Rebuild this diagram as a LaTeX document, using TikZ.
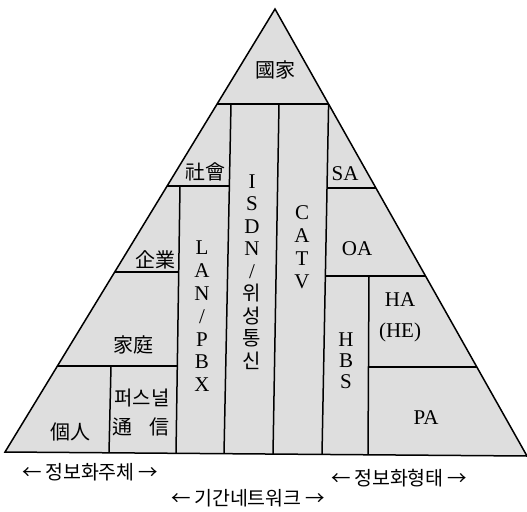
\documentclass[tikz,border=0pt]{standalone}
\usepackage{fontspec}
\setmainfont{Liberation Serif}
\newfontfamily\kr{Noto Sans CJK KR}
\tikzset{
  edge/.style={line width=1.5pt, black},
  lat/.style={font=\fontsize{21}{22.8}\selectfont, align=center, inner sep=0pt},
  cjk/.style={font=\kr\fontsize{20}{22}\selectfont, align=center, inner sep=0pt},
  bottomlbl/.style={font=\kr\fontsize{19.5}{20}\selectfont, inner sep=0pt},
}
\begin{document}
\begin{tikzpicture}[x=1pt,y=-1pt]
\useasboundingbox (0,0) rectangle (527,511);
% outline
\coordinate (T) at (275,9);
\coordinate (BL) at (5,452);
\coordinate (BR) at (527,456);
\fill[black!13] (T) -- (BL) -- (BR) -- cycle;
% vertical lines
\coordinate (At) at (231,104); \coordinate (Ab) at (224,453.7);
\coordinate (Bt) at (279,104); \coordinate (Bb) at (273,454.1);
\coordinate (Ct) at (328.6,104); \coordinate (Cb) at (322,454.5);
\coordinate (Dt) at (180,186); \coordinate (Db) at (176,453.3);
\coordinate (Et) at (111,366); \coordinate (Eb) at (109,452.8);
\coordinate (Ft) at (369,276); \coordinate (Fb) at (368,454.8);
% horizontal line ends
\coordinate (H1l) at (217.1,104); \coordinate (H1r) at (328.6,104);
\coordinate (H2l) at (167.1,186); \coordinate (H2r) at (229.4,186);
\coordinate (H3l) at (326.6,188); \coordinate (H3r) at (375.9,188);
\coordinate (H4l) at (114.7,272); \coordinate (H4r) at (178.7,272);
\coordinate (H5l) at (325.1,276); \coordinate (H5r) at (425.5,276);
\coordinate (H6l) at (57.4,366);  \coordinate (H6r) at (177.3,366);
\coordinate (H7l) at (368.5,367); \coordinate (H7r) at (476.8,367);
\draw[edge] (At) -- (Ab);
\draw[edge] (Bt) -- (Bb);
\draw[edge] (Ct) -- (Cb);
\draw[edge] (Dt) -- (Db);
\draw[edge] (Et) -- (Eb);
\draw[edge] (Ft) -- (Fb);
\draw[edge] (H1l) -- (H1r);
\draw[edge] (H2l) -- (H2r);
\draw[edge] (H3l) -- (H3r);
\draw[edge] (H4l) -- (H4r);
\draw[edge] (H5l) -- (H5r);
\draw[edge] (H6l) -- (H6r);
\draw[edge] (H7l) -- (H7r);
\draw[edge] (T) -- (BL) -- (BR) -- cycle;
% labels
\node[cjk] (guk) at (275,70) {國家};
\node[cjk] (sahoe) at (205,172) {社會};
\node[cjk] (gieop) at (155,260) {企業};
\node[cjk] (gajeong) at (133,345) {家庭};
\node[cjk] (gaein) at (70,432) {個人};
\node[cjk] (personal) at (142,398) {퍼스널};
\node[cjk] (tongsin) at (141,427) {通\hspace{17pt}信};
\node[lat] (sa) at (345,174) {SA};
\node[lat] (oa) at (357,249) {OA};
\node[lat, font=\fontsize{21}{31}\selectfont] (ha) at (400,317.5) {HA\\(HE)};
\node[lat] (pa) at (426,418) {PA};
\node[lat, font=\fontsize{21}{22.8}\selectfont] (lan) at (202,316.5) {L\\A\\N\\/\\P\\B\\X};
\node[lat, font=\fontsize{21}{22.5}\selectfont] (isdn) at (252,272) {I\\S\\D\\N\\/\\{\kr\fontsize{20}{22}\selectfont 위}\\{\kr\fontsize{20}{22}\selectfont 성}\\{\kr\fontsize{20}{22}\selectfont 통}\\{\kr\fontsize{20}{22}\selectfont 신}};
\node[lat, font=\fontsize{21}{23}\selectfont] (catv) at (302,247.5) {C\\A\\T\\V};
\node[lat, font=\fontsize{21}{21}\selectfont] (hbs) at (346,361) {H\\B\\S};
\node[bottomlbl] (jucheo) at (90,472) {←\,정보화주체\,→};
\node[bottomlbl] (hyeongtae) at (399,478) {←\,정보화형태\,→};
\node[bottomlbl] (network) at (248,498.5) {←\,기간네트워크\,→};
\end{tikzpicture}
\end{document}
